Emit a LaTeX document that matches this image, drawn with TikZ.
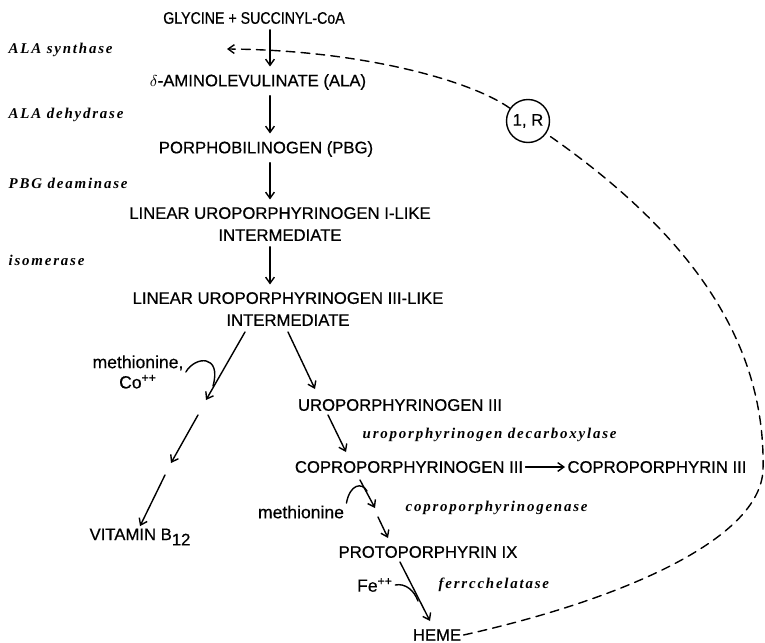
\documentclass[tikz,border=0pt]{standalone}
\usepackage{fontspec}
\usetikzlibrary{arrows.meta}
\setmainfont{Liberation Sans}[FakeBold=0.4]
\newfontfamily\capfont{Liberation Sans}[FakeBold=0.6]
\newfontfamily\capnarrow{Liberation Sans}[FakeStretch=0.85,FakeBold=0.6]
\newfontfamily\enzfont{Liberation Serif}[LetterSpace=12]
\begin{document}
\begin{tikzpicture}[x=0.02cm,y=-0.02cm,line join=round,line cap=round,>={Straight Barb[length=3.5pt,width=5pt]},thick,
	chem/.style={font=\capfont\fontsize{9.5}{12.5}\selectfont,inner sep=1pt,align=center},
	enz/.style={font=\enzfont\bfseries\itshape\fontsize{8.5}{10}\selectfont,anchor=west,inner sep=0pt},
	cof/.style={font=\fontsize{10}{11.5}\selectfont,inner sep=1pt,align=center},
	fb/.style={dash pattern=on 5pt off 3.5pt},
	step arrow/.style={->,shorten <=2pt,shorten >=3pt}]
	\useasboundingbox (0,0) rectangle (765,643);
	\node[chem,font=\capnarrow\fontsize{9.5}{12.5}\selectfont] (gly) at (254,18) {GLYCINE + SUCCINYL-CoA};
	\node[chem] (ala) at (258,82) {$\delta$-AMINOLEVULINATE (ALA)};
	\node[chem] (pbg) at (266,149) {PORPHOBILINOGEN (PBG)};
	\node[chem] (lin1) at (280,224) {LINEAR UROPORPHYRINOGEN I-LIKE\\INTERMEDIATE};
	\node[chem] (lin3) at (288,309) {LINEAR UROPORPHYRINOGEN III-LIKE\\INTERMEDIATE};
	\node[chem] (uro) at (400,405) {UROPORPHYRINOGEN III};
	\node[chem] (copro) at (409,467) {COPROPORPHYRINOGEN III};
	\node[chem] (coprin) at (657,467) {COPROPORPHYRIN III};
	\node[chem] (proto) at (428,552) {PROTOPORPHYRIN IX};
	\node[chem] (heme) at (437,635) {HEME};
	\node[chem] (vitb) at (140,537) {VITAMIN B\raisebox{-.6ex}{12}};
	\node[draw,circle,minimum size=0.86cm,inner sep=0pt,chem] (ir) at (528,121) {1, R};
	\node[enz] (als) at (8,50) {ALA synthase};
	\node[enz] (ald) at (8,115) {ALA dehydrase};
	\node[enz] (pbgd) at (8,183) {PBG deaminase};
	\node[enz] (iso) at (8,260) {isomerase};
	\node[enz] (udc) at (362,435) {uroporphyrinogen decarboxylase};
	\node[enz] (cpg) at (405,508) {coproporphyrinogenase};
	\node[enz] (fch) at (438,585) {ferrcchelatase};
	\node[cof] (met1) at (138,372) {methionine,\\Co\textsuperscript{++}};
	\node[cof] (met2) at (301,512) {methionine};
	\node[cof] (fe) at (375,585) {Fe\textsuperscript{++}};
	\path
	(270,0) coordinate (ax)
	(245,332) coordinate (l0)
	(206,400) coordinate (l1)
	(198,415) coordinate (l2)
	(171,463) coordinate (l3)
	(165,475) coordinate (l4)
	(288,332) coordinate (r0)
	(315,389) coordinate (r1)
	(328,415) coordinate (u0)
	(346,452) coordinate (u1)
	(360,480) coordinate (c0)
	(375,508) coordinate (c1)
	(378,517) coordinate (c2)
	(388,538) coordinate (c3)
	(400,562) coordinate (p0)
	(430,621) coordinate (p1)
	(763,470) coordinate (rt)
	(227,49) coordinate (tip);
	\draw[step arrow](gly.south -| ax)--(ala.north -| ax);
	\draw[step arrow](ala.south -| ax)--(pbg.north -| ax);
	\draw[step arrow](pbg.south -| ax)--(lin1.north -| ax);
	\draw[step arrow](lin1.south -| ax)--(lin3.north -| ax);
	\draw[->](l0)--(l1);
	\draw[->](l2)--(l3);
	\draw[->](l4)--(vitb.north);
	\draw[->](r0)--(r1);
	\draw[->](u0)--(u1);
	\draw[->](c0)--(c1);
	\draw[->](c2)--(c3);
	\draw[->](p0)--(p1);
	\draw[->](copro)--(coprin);
	\draw(met1.east) .. controls (195,356) and (222,354) .. (213,386);
	\draw(met2.north east) .. controls (350,484) and (362,482) .. (367,491);
	\draw(fe.east) .. controls (405,583) and (414,590) .. (418,601);
	\draw[fb](heme.east) .. controls (620,600) and (760,540) .. (rt) .. controls (766,350) and (700,240) .. (ir);
	\draw[fb,->](ir) .. controls (470,80) and (360,50) .. (tip);
\end{tikzpicture}
\end{document}
